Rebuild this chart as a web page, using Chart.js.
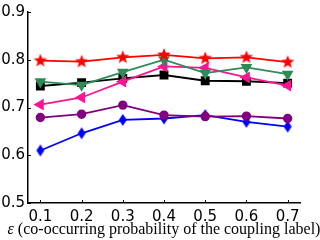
<!DOCTYPE html>
<html>
<head>
<meta charset="utf-8">
<script src="https://cdn.jsdelivr.net/npm/chart.js@4/dist/chart.umd.min.js"></script>
<style>
  html, body { margin: 0; padding: 0; background: #fff; }
</style>
</head>
<body>
<canvas id="chart" width="320" height="240"></canvas>
<script>
// Data
const epsValues = [0.1, 0.2, 0.3, 0.4, 0.5, 0.6, 0.7];
const yTicks = [0.5, 0.6, 0.7, 0.8, 0.9];
const redStar = [0.798, 0.796, 0.805, 0.810, 0.803, 0.805, 0.795];
const greenTri = [0.754, 0.747, 0.774, 0.800, 0.772, 0.784, 0.770];
const pinkTri = [0.706, 0.721, 0.754, 0.786, 0.783, 0.763, 0.746];
const blackSq = [0.745, 0.752, 0.761, 0.768, 0.756, 0.755, 0.751];
const purpleDot = [0.679, 0.686, 0.705, 0.684, 0.681, 0.682, 0.677];
const blueDiamond = [0.610, 0.646, 0.674, 0.677, 0.684, 0.670, 0.660];
const titleSymbol = 'ε';
const titleRest = ' (co-occurring probability of the coupling label)';

// filled 5-point star marker
function makeStar(r, color) {
    const c = document.createElement('canvas');
    c.width = c.height = Math.ceil(r * 2 + 2);
    const g = c.getContext('2d');
    const cx = c.width / 2, cy = c.height / 2;
    g.beginPath();
    for (let i = 0; i < 10; i++) {
        const rr = i % 2 ? r * 0.42 : r;
        const a = -Math.PI / 2 + i * Math.PI / 5;
        g.lineTo(cx + rr * Math.cos(a), cy + rr * Math.sin(a));
    }
    g.closePath();
    g.fillStyle = color;
    g.fill();
    return c;
}

// thin diamond marker
function makeThinDiamond(w, h, color) {
    const c = document.createElement('canvas');
    c.width = w + 2; c.height = h + 2;
    const g = c.getContext('2d');
    const cx = c.width / 2, cy = c.height / 2;
    g.beginPath();
    g.moveTo(cx, cy - h / 2);
    g.lineTo(cx + w / 2, cy);
    g.lineTo(cx, cy + h / 2);
    g.lineTo(cx - w / 2, cy);
    g.closePath();
    g.fillStyle = color;
    g.fill();
    return c;
}

function series(values) {
    return values.map((v, i) => ({ x: epsValues[i], y: v }));
}

// small inward tick marks like matplotlib
const innerTicks = {
    id: 'innerTicks',
    beforeDatasetsDraw(chart) {
        const { ctx, chartArea, scales } = chart;
        ctx.save();
        ctx.strokeStyle = '#000';
        ctx.lineWidth = 1;
        ctx.beginPath();
        epsValues.forEach(v => {
            const x = Math.round(scales.x.getPixelForValue(v)) + 0.5;
            ctx.moveTo(x, chartArea.bottom);
            ctx.lineTo(x, chartArea.bottom - 3);
        });
        yTicks.forEach(v => {
            const y = Math.round(scales.y.getPixelForValue(v)) + 0.5;
            ctx.moveTo(chartArea.left, y);
            ctx.lineTo(chartArea.left + 3, y);
        });
        ctx.stroke();
        ctx.restore();
    }
};

// x axis title drawn by hand: Chart.js squeezes it to the axis width
const axisTitle = {
    id: 'axisTitle',
    afterDraw(chart) {
        const { ctx, chartArea } = chart;
        ctx.save();
        ctx.fillStyle = '#000';
        ctx.textBaseline = 'middle';
        const italic = 'italic 16px "Liberation Serif"';
        const plain = '16px "Liberation Serif"';
        ctx.font = italic;
        const w1 = ctx.measureText(titleSymbol).width;
        ctx.font = plain;
        const w2 = ctx.measureText(titleRest).width;
        const cx = (chartArea.left + chartArea.right) / 2;
        let x = cx - (w1 + w2) / 2;
        const y = chart.height - 10;
        ctx.font = italic;
        ctx.fillText(titleSymbol, x, y);
        ctx.font = plain;
        ctx.fillText(titleRest, x + w1, y);
        ctx.restore();
    }
};

const lineW = 1.8;

new Chart(document.getElementById('chart'), {
    type: 'line',
    data: {
        datasets: [
            {
                data: series(redStar),
                borderColor: '#ff0000',
                borderWidth: lineW,
                pointStyle: makeStar(7, '#ff0000')
            },
            {
                data: series(greenTri),
                borderColor: '#2e8b57',
                backgroundColor: '#2e8b57',
                borderWidth: lineW,
                pointStyle: 'triangle',
                pointRotation: 180,
                pointRadius: 5
            },
            {
                data: series(pinkTri),
                borderColor: '#ff1493',
                backgroundColor: '#ff1493',
                borderWidth: lineW,
                pointStyle: 'triangle',
                pointRotation: 270,
                pointRadius: 5
            },
            {
                data: series(blackSq),
                borderColor: '#000000',
                backgroundColor: '#000000',
                borderWidth: lineW,
                pointStyle: 'rect',
                pointRadius: 5
            },
            {
                data: series(purpleDot),
                borderColor: '#800080',
                backgroundColor: '#800080',
                borderWidth: lineW,
                pointStyle: 'circle',
                pointRadius: 3.8
            },
            {
                data: series(blueDiamond),
                borderColor: '#0000ff',
                borderWidth: lineW,
                pointStyle: makeThinDiamond(8, 12, '#0000ff')
            }
        ]
    },
    options: {
        responsive: false,
        animation: false,
        layout: { padding: { top: 10, right: 20, left: 0, bottom: 0 } },
        elements: {
            line: { tension: 0 },
            point: { borderWidth: 0 }
        },
        plugins: {
            legend: { display: false },
            tooltip: { enabled: false }
        },
        scales: {
            x: {
                type: 'linear',
                min: 0.07,
                max: 0.73,
                afterBuildTicks: (scale) => { scale.ticks = epsValues.map(v => ({ value: v })); },
                afterFit: (scale) => { scale.height = 37; },
                grid: { display: false, drawTicks: false },
                border: { display: true, color: '#000', width: 1.5 },
                ticks: {
                    padding: 5,
                    color: '#000',
                    font: { family: 'DejaVu Sans', size: 15 },
                    maxRotation: 0,
                    callback: (v) => v.toFixed(1)
                }
            },
            y: {
                min: 0.5,
                max: 0.9,
                afterBuildTicks: (scale) => { scale.ticks = yTicks.map(v => ({ value: v })); },
                afterFit: (scale) => { scale.width = 28; },
                grid: { display: false, drawTicks: false },
                border: { display: true, color: '#000', width: 1.5 },
                ticks: {
                    padding: 3,
                    color: '#000',
                    font: { family: 'DejaVu Sans', size: 15 },
                    callback: (v) => v.toFixed(1)
                }
            }
        }
    },
    plugins: [innerTicks, axisTitle]
});
</script>
</body>
</html>
